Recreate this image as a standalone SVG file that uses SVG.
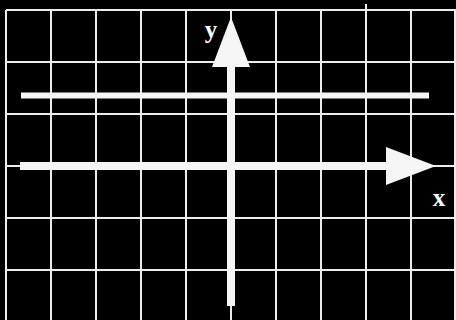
<svg xmlns="http://www.w3.org/2000/svg" width="456" height="320" viewBox="0 0 456 320">
  <style>
    .grid line { stroke: #ececec; stroke-width: 2; }
    .bar { fill: #f5f5f5; }
    .lbl { font-family: "Liberation Serif", "Times New Roman", serif; font-weight: bold; font-size: 25px; fill: #ffffff; }
  </style>
  <rect x="0" y="0" width="456" height="320" fill="#000000"/>
  <g id="grid" class="grid">
    <line x1="6" y1="10" x2="456" y2="10"/>
    <line x1="6" y1="62" x2="456" y2="62"/>
    <line x1="6" y1="114" x2="456" y2="114"/>
    <line x1="6" y1="166" x2="456" y2="166"/>
    <line x1="6" y1="218" x2="456" y2="218"/>
    <line x1="6" y1="270" x2="456" y2="270"/>
    <line x1="6" y1="10" x2="6" y2="320"/>
    <line x1="51" y1="10" x2="51" y2="320"/>
    <line x1="96" y1="10" x2="96" y2="320"/>
    <line x1="141" y1="10" x2="141" y2="320"/>
    <line x1="186" y1="10" x2="186" y2="320"/>
    <line x1="231" y1="10" x2="231" y2="320"/>
    <line x1="276" y1="10" x2="276" y2="320"/>
    <line x1="321" y1="10" x2="321" y2="320"/>
    <line x1="366" y1="4" x2="366" y2="320"/>
    <line x1="411" y1="10" x2="411" y2="320"/>
    <line x1="455" y1="10" x2="455" y2="320"/>
  </g>
  <g id="connectors">
    <rect id="hbar" class="bar" x="21" y="92.5" width="408" height="6"/>
    <g id="x-axis">
      <rect class="bar" x="20" y="162" width="367" height="8"/>
      <polygon class="bar" points="386,147 436,166 386,185"/>
    </g>
    <g id="y-axis">
      <rect class="bar" x="227" y="66" width="8" height="240"/>
      <polygon class="bar" points="231,17 212,67 250,67"/>
    </g>
  </g>
  <g id="label-y"><text class="lbl" x="211" y="38" text-anchor="middle">y</text></g>
  <g id="label-x"><text class="lbl" x="439" y="206" text-anchor="middle">x</text></g>
</svg>
